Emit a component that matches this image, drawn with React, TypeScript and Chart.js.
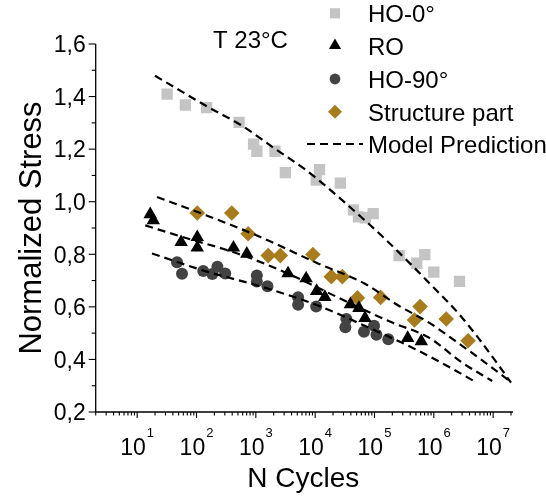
import React, { useEffect, useRef } from 'react';
import { Chart, registerables } from 'chart.js';

Chart.register(...registerables);

const FONT = '"Liberation Sans", Arial, Helvetica, sans-serif';

// ---------- data ----------
const ho0N = [32, 65, 148, 522, 916, 1042, 2104, 3147, 11860, 10420, 26600, 44200, 53700, 70500, 95200, 260600, 516000, 705000, 1.0e6, 2.71e6];
const ho0S = [1.409, 1.368, 1.358, 1.302, 1.219, 1.192, 1.192, 1.111, 1.122, 1.082, 1.071, 0.969, 0.942, 0.939, 0.955, 0.795, 0.766, 0.799, 0.732, 0.697];

const roN = [16.6, 18.7, 55, 103, 103, 420, 705, 3490, 7050, 10600, 14600, 39300, 54700, 69200, 363000, 615000];
const roS = [0.952, 0.929, 0.846, 0.865, 0.825, 0.825, 0.802, 0.727, 0.708, 0.66, 0.637, 0.61, 0.595, 0.557, 0.481, 0.469];

const ho90N = [47, 57, 130, 185, 225, 305, 1040, 1040, 1570, 5160, 5160, 10400, 33600, 32300, 66500, 98300, 108000, 171000];
const ho90S = [0.77, 0.726, 0.736, 0.725, 0.753, 0.727, 0.719, 0.696, 0.678, 0.637, 0.608, 0.601, 0.554, 0.522, 0.505, 0.528, 0.494, 0.477];

const structN = [103, 393, 742, 1620, 2590, 9160, 18700, 28700, 51600, 127000, 587000, 472000, 1.62e6, 3.78e6];
const structS = [0.957, 0.957, 0.878, 0.795, 0.795, 0.799, 0.715, 0.715, 0.634, 0.636, 0.601, 0.55, 0.554, 0.471];

// model prediction curves
const modelHo0N = [20, 173, 558, 2024, 7050, 21000, 35900, 148000, 991000, 2.63e6, 5.74e6, 1.25e7, 2e7];
const modelHo0S = [1.479, 1.355, 1.292, 1.204, 1.12, 1.032, 0.986, 0.86, 0.674, 0.574, 0.479, 0.376, 0.312];
const modelStructN = [21.6, 132, 1370, 11140, 67900, 253000, 815000, 2.28e6, 6.04e6, 2e7];
const modelStructS = [1.018, 0.952, 0.86, 0.765, 0.689, 0.605, 0.541, 0.471, 0.402, 0.314];
const modelRoN = [13.7, 60, 491, 3450, 31100, 195000, 815000, 2.99e6, 9.64e6];
const modelRoS = [0.91, 0.865, 0.803, 0.727, 0.624, 0.541, 0.484, 0.388, 0.318];
const modelHo90N = [17.8, 132, 1370, 11140, 78300, 478000, 1.66e6, 4.72e6];
const modelHo90S = [0.803, 0.738, 0.674, 0.605, 0.522, 0.44, 0.376, 0.318];

// ---------- axes / text ----------
const xMin = 2;
const xMax = 2e7;
const yMin = 0.2;
const yMax = 1.6;
const yTickValues = [0.2, 0.4, 0.6, 0.8, 1.0, 1.2, 1.4, 1.6];
const yTickLabels = ['0,2', '0,4', '0,6', '0,8', '1,0', '1,2', '1,4', '1,6'];
const xTickExponents = [1, 2, 3, 4, 5, 6, 7];
const xTickBase = '10';
const xTitle = 'N Cycles';
const yTitle = 'Normalized Stress';
const annotationText = 'T 23°C';

const seriesLabels = ['HO-0°', 'RO', 'HO-90°', 'Structure part'];
const modelLabel = 'Model Prediction';
const seriesColors = ['#c4c4c4', '#000000', '#434343', '#a87c1c'];
const seriesStyles = ['rect', 'triangle', 'circle', 'rectRot'];
const seriesRadii = [8, 7.8, 6, 7.8];

const toPts = (n: number[], s: number[]) => n.map((v, i) => ({ x: v, y: s[i] }));

const DASH = [8, 5];

function drawMarker(ctx: CanvasRenderingContext2D, style: string, x: number, y: number, r: number, color: string) {
  ctx.save();
  ctx.fillStyle = color;
  ctx.beginPath();
  if (style === 'rect') {
    const s = Math.SQRT1_2 * r;
    ctx.rect(x - s, y - s, 2 * s, 2 * s);
  } else if (style === 'triangle') {
    ctx.moveTo(x, y - r);
    ctx.lineTo(x + r * Math.sin((2 * Math.PI) / 3), y - r * Math.cos((2 * Math.PI) / 3));
    ctx.lineTo(x + r * Math.sin((4 * Math.PI) / 3), y - r * Math.cos((4 * Math.PI) / 3));
    ctx.closePath();
  } else if (style === 'circle') {
    ctx.arc(x, y, r, 0, Math.PI * 2);
  } else {
    ctx.moveTo(x, y - r);
    ctx.lineTo(x + r, y);
    ctx.lineTo(x, y + r);
    ctx.lineTo(x - r, y);
    ctx.closePath();
  }
  ctx.fill();
  ctx.restore();
}

const decoPlugin = {
  id: 'deco',
  afterDraw(chart: any) {
    const { ctx, chartArea } = chart;
    const xs = chart.scales.x;
    const ys = chart.scales.y;
    const left = chartArea.left;
    const bottom = chartArea.bottom;
    ctx.save();
    ctx.strokeStyle = '#000';
    ctx.fillStyle = '#000';
    ctx.lineWidth = 1.3;
    ctx.setLineDash([]);

    // axis lines
    ctx.beginPath();
    ctx.moveTo(left, chartArea.top);
    ctx.lineTo(left, bottom);
    ctx.lineTo(chartArea.right + 2, bottom);
    ctx.stroke();

    // y ticks
    ctx.lineWidth = 1.1;
    for (let i = 0; i < yTickValues.length; i++) {
      const v = yTickValues[i];
      const py = ys.getPixelForValue(v);
      ctx.beginPath();
      ctx.moveTo(left, py);
      ctx.lineTo(left - 7, py);
      ctx.stroke();
      if (i < yTickValues.length - 1) {
        const mid = (v + yTickValues[i + 1]) / 2;
        const pm = ys.getPixelForValue(mid);
        ctx.beginPath();
        ctx.moveTo(left, pm);
        ctx.lineTo(left - 4, pm);
        ctx.stroke();
      }
    }
    ctx.font = `23px ${FONT}`;
    ctx.textAlign = 'right';
    ctx.textBaseline = 'alphabetic';
    yTickValues.forEach((v, i) => {
      const py = ys.getPixelForValue(v);
      ctx.fillText(yTickLabels[i], left - 10, py + 8.3);
    });

    // x ticks (minor at m*10^k, major at 10^k)
    for (let k = 0; k <= 7; k++) {
      for (let m = 1; m <= 9; m++) {
        const v = m * Math.pow(10, k);
        if (v < xMin || v > xMax) continue;
        const px = xs.getPixelForValue(v);
        ctx.beginPath();
        ctx.moveTo(px, bottom);
        ctx.lineTo(px, bottom + (m === 1 ? 6 : 3.5));
        ctx.stroke();
      }
    }
    xTickExponents.forEach((e) => {
      const px = xs.getPixelForValue(Math.pow(10, e));
      ctx.font = `23px ${FONT}`;
      const wb = ctx.measureText(xTickBase).width;
      ctx.font = `13px ${FONT}`;
      const we = ctx.measureText(String(e)).width;
      const start = px - (wb + we + 1) / 2;
      ctx.textAlign = 'left';
      ctx.font = `23px ${FONT}`;
      ctx.fillText(xTickBase, start, bottom + 43);
      ctx.font = `13px ${FONT}`;
      ctx.fillText(String(e), start + wb + 1, bottom + 25);
    });

    // axis titles
    ctx.font = `28px ${FONT}`;
    ctx.textAlign = 'center';
    ctx.fillText(xTitle, (chartArea.left + chartArea.right) / 2, bottom + 75);
    ctx.save();
    ctx.translate(41, (chartArea.top + chartArea.bottom) / 2);
    ctx.rotate(-Math.PI / 2);
    ctx.font = `31px ${FONT}`;
    ctx.fillText(yTitle, 0, 0);
    ctx.restore();

    // annotation
    ctx.font = `24px ${FONT}`;
    ctx.textAlign = 'left';
    ctx.fillText(annotationText, 213, 48);

    // legend
    const lx = 335;
    const tx = 368;
    const rows = [13.3, 45.5, 79, 111.7, 144];
    ctx.font = `24px ${FONT}`;
    seriesLabels.forEach((lab, i) => {
      drawMarker(ctx, seriesStyles[i], lx, rows[i], seriesRadii[i] * 0.9, seriesColors[i]);
      ctx.fillStyle = '#000';
      ctx.fillText(lab, tx, rows[i] + 9);
    });
    ctx.strokeStyle = '#000';
    ctx.lineWidth = 2.2;
    ctx.setLineDash(DASH);
    ctx.beginPath();
    ctx.moveTo(307, rows[4]);
    ctx.lineTo(363, rows[4]);
    ctx.stroke();
    ctx.setLineDash([]);
    ctx.fillText(modelLabel, tx, rows[4] + 9);

    ctx.restore();
  },
};

const modelSets = [
  [modelHo0N, modelHo0S],
  [modelStructN, modelStructS],
  [modelRoN, modelRoS],
  [modelHo90N, modelHo90S],
];
const seriesSets = [
  [ho0N, ho0S],
  [roN, roS],
  [ho90N, ho90S],
  [structN, structS],
];

export default function App() {
  const ref = useRef<HTMLCanvasElement>(null);
  useEffect(() => {
    const datasets: any[] = [];
    modelSets.forEach(([n, s]) => {
      datasets.push({
        label: modelLabel,
        data: toPts(n, s),
        showLine: true,
        borderColor: '#000',
        borderWidth: 2.2,
        borderDash: DASH,
        pointRadius: 0,
        cubicInterpolationMode: 'monotone',
        fill: false,
        order: 0,
        clip: false,
      });
    });
    seriesSets.forEach(([n, s], i) => {
      datasets.push({
        label: seriesLabels[i],
        data: toPts(n, s),
        showLine: false,
        pointStyle: seriesStyles[i],
        pointRadius: seriesRadii[i],
        pointBackgroundColor: seriesColors[i],
        backgroundColor: seriesColors[i],
        pointBorderColor: seriesColors[i],
        pointBorderWidth: 0,
        order: 1,
      });
    });
    const chart = new Chart(ref.current as HTMLCanvasElement, {
      type: 'scatter',
      data: { datasets },
      options: {
        animation: false,
        responsive: false,
        events: [],
        layout: { padding: { left: 95.7, right: 35, top: 44, bottom: 90 } },
        plugins: { legend: { display: false }, tooltip: { enabled: false } },
        scales: {
          x: { type: 'logarithmic', min: xMin, max: xMax, display: false },
          y: { type: 'linear', min: yMin, max: yMax, display: false },
        },
      },
      plugins: [decoPlugin],
    } as any);
    return () => chart.destroy();
  }, []);
  return (
    <div style={{ position: 'fixed', left: 0, top: 0, width: 546, height: 502, background: '#fff' }}>
      <canvas ref={ref} width={546} height={502} style={{ display: 'block', width: 546, height: 502 }} />
    </div>
  );
}
